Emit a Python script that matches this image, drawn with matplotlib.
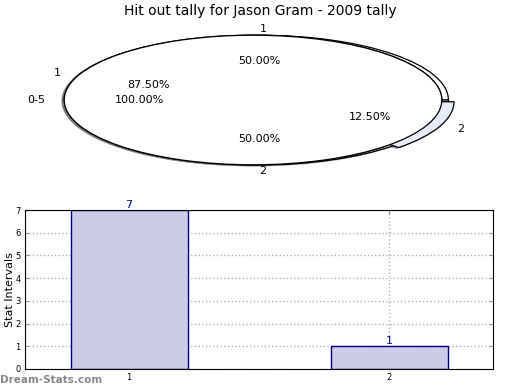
import matplotlib
matplotlib.use('Agg')
import matplotlib.pyplot as plt

# pie data
inner_vals = [100]
inner_labels = ['0-5']
mid_vals = [87.5, 12.5]
mid_labels = ['1', '2']
outer_vals = [50, 50]
outer_labels = ['1', '2']

# bar data
bar_x = [1, 2]
bar_vals = [7, 1]

title = 'Hit out tally for Jason Gram - 2009 tally'
pie_cols = ['white', '#e6ecf8']

fig = plt.figure(figsize=(5.2, 3.9), dpi=100)
fig.text(0.5, 1 - 10.5/390., title, ha='center', va='center', fontsize=10)

axp = fig.add_axes([17/520., 1 - 181/390., 472/520., 162/390.])
wp = dict(edgecolor='black', linewidth=0.9)
shd = dict(ox=-0.008, oy=-0.01, shade=0.6)
axp.pie(outer_vals, labels=outer_labels, autopct='%.2f%%', colors=pie_cols,
        center=(0.035, 0), shadow=shd, wedgeprops=wp,
        textprops=dict(fontsize=8))
axp.pie(mid_vals, labels=mid_labels, autopct='%.2f%%', colors=pie_cols,
        explode=(0, 0.07), shadow=shd, wedgeprops=wp,
        textprops=dict(fontsize=8))
axp.pie(inner_vals, labels=inner_labels, autopct='%.2f%%', colors=pie_cols,
        shadow=shd, wedgeprops=wp, textprops=dict(fontsize=8))
axp.set_aspect('auto')
axp.set_xlim(-1.25, 1.25)
axp.set_ylim(-1.25, 1.25)

ax = fig.add_axes([25/520., 1 - 369/390., 468/520., 159/390.])
ax.bar(bar_x, bar_vals, width=0.45, color='#ccccE6', edgecolor='#000080',
       linewidth=1, zorder=2)
for x, v in zip(bar_x, bar_vals):
    ax.text(x, v, str(v), ha='center', va='bottom', color='#000080',
            fontsize=8, zorder=3)
ax.set_xlim(0.6, 2.4)
ax.set_ylim(0, 7)
ax.set_xticks(bar_x)
ax.set_yticks(range(0, 8))
ax.grid(True, linestyle=':', color='#b0b0b0', linewidth=1, zorder=0)
ax.set_axisbelow(True)
ax.tick_params(labelsize=6, length=3, color='#999999', direction='in',
               right=True, top=True, pad=3)
ax.set_ylabel('Stat Intervals', fontsize=8, labelpad=0.5)
ax.set_xlabel('Frequency', fontsize=8, labelpad=8)

fig.text(0.0, 1 - 380/390., 'Dream-Stats.com', ha='left', va='center',
         color='#888888', fontsize=7.5, weight='bold')

fig.savefig('out.png', dpi=100)
